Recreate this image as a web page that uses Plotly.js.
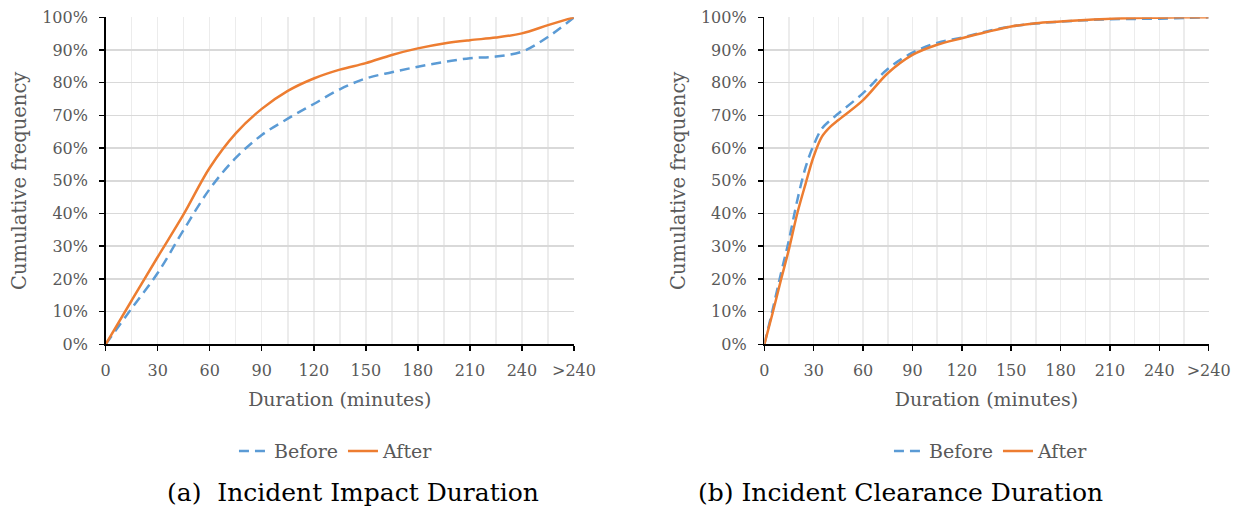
<!DOCTYPE html>
<html>
<head>
<meta charset="utf-8">
<script src="https://cdn.plot.ly/plotly-3.0.1.min.js"></script>
<style>html,body{margin:0;padding:0;background:#fff;}#chart{width:1237px;height:511px;}</style>
</head>
<body>
<div id="chart"></div>
<script>
// x positions in minutes; 270 stands for the ">240" category
const tickVals = [0, 30, 60, 90, 120, 150, 180, 210, 240, 270];
const tickLabels = ['0', '30', '60', '90', '120', '150', '180', '210', '240', '>240'];

// (a) Incident Impact Duration
const impactMinutes = [0, 15, 30, 45, 60, 75, 90, 105, 120, 135, 150, 165, 180, 195, 210, 225, 240, 255, 270];
const impactBefore = [0, 11, 21.8, 35, 47.5, 57, 64, 69, 73.5, 78, 81.3, 83.2, 84.9, 86.3, 87.5, 88, 89.5, 94, 100];
const impactAfter  = [0, 13.4, 26.7, 39.8, 54, 64.5, 72, 77.5, 81.3, 84, 86, 88.5, 90.5, 92, 93, 93.8, 95.1, 97.6, 100];

// (b) Incident Clearance Duration
const clearMinutes = [0, 5, 10, 15, 20, 25, 30, 35, 40, 45, 60, 75, 90, 105, 120, 135, 150, 165, 180, 195, 210, 225, 240, 255, 270];
const clearBefore = [0, 10.5, 21.5, 32, 44, 54, 61, 66, 68.5, 70.6, 76.8, 84.2, 89.2, 92.2, 93.8, 95.7, 97.2, 98.1, 98.7, 99.1, 99.4, 99.5, 99.6, 99.8, 100];
const clearAfter  = [0, 9.5, 19.5, 29.2, 40, 49, 57.5, 63.5, 66.5, 68.6, 74.7, 82.9, 88.5, 91.6, 93.6, 95.5, 97.2, 98.2, 98.7, 99.2, 99.6, 99.8, 99.9, 100, 100];

const seriesNames = ['Before', 'After'];
const captions = ['(a)\u00a0\u00a0Incident Impact Duration', '(b) Incident Clearance Duration'];

const FONT = 'DejaVu Serif';
const GRAY = '#595959';
const BLUE = '#5b9bd5';
const ORANGE = '#ed7d31';

const minorVals = tickVals.slice(1).map((v, i) => (v + tickVals[i]) / 2);

function trace(x, y, name, color, dash, xa, ya, leg) {
  return {
    x: x, y: y, name: name, type: 'scatter', mode: 'lines',
    line: {color: color, width: 2.5, dash: dash, shape: 'spline', smoothing: 1},
    xaxis: xa, yaxis: ya, legend: leg, hoverinfo: 'skip'
  };
}

const data = [
  trace(impactMinutes, impactBefore, seriesNames[0], BLUE, '10px,6px', 'x', 'y', 'legend'),
  trace(impactMinutes, impactAfter, seriesNames[1], ORANGE, 'solid', 'x', 'y', 'legend'),
  trace(clearMinutes, clearBefore, seriesNames[0], BLUE, '10px,6px', 'x2', 'y2', 'legend2'),
  trace(clearMinutes, clearAfter, seriesNames[1], ORANGE, 'solid', 'x2', 'y2', 'legend2')
];

function xAxis(domain, anchor) {
  return {
    domain: domain, anchor: anchor, range: [0, 270],
    tickmode: 'array', tickvals: tickVals, ticktext: tickLabels,
    showline: true, linecolor: '#000', linewidth: 1.5,
    ticks: 'outside', ticklen: 5, tickcolor: '#000', tickwidth: 1.5,
    ticklabelstandoff: 6,
    showgrid: true, gridcolor: '#ececec', gridwidth: 1.5,
    minor: {tickmode: 'array', tickvals: minorVals, showgrid: true, gridcolor: '#ececec', gridwidth: 1.5, ticks: ''},
    zeroline: false,
    tickfont: {family: FONT, size: 16, color: GRAY},
    title: {text: 'Duration (minutes)', font: {family: FONT, size: 19, color: GRAY}, standoff: 13}
  };
}
function yAxis(anchor) {
  return {
    domain: [0.3262, 0.9661], anchor: anchor, range: [0, 100],
    tickmode: 'linear', tick0: 0, dtick: 10, ticksuffix: '%',
    showline: true, linecolor: '#000', linewidth: 1.5,
    ticks: 'outside', ticklen: 5, tickcolor: '#000', tickwidth: 1.5,
    ticklabelstandoff: 8,
    showgrid: true, gridcolor: '#d9d9d9', gridwidth: 1.5,
    zeroline: false,
    tickfont: {family: FONT, size: 16, color: GRAY},
    title: {text: 'Cumulative frequency', font: {family: FONT, size: 19.5, color: GRAY}, standoff: 10}
  };
}

const legendBase = {
  orientation: 'h', yanchor: 'middle', y: 0.117, xanchor: 'center',
  font: {family: FONT, size: 19, color: GRAY}, bgcolor: 'rgba(0,0,0,0)',
  itemwidth: 30, tracegroupgap: 0
};

const layout = {
  width: 1237, height: 511,
  margin: {l: 0, r: 0, t: 0, b: 0},
  paper_bgcolor: '#fff', plot_bgcolor: '#fff',
  font: {family: FONT},
  showlegend: true,
  xaxis: xAxis([0.0854, 0.4640], 'y'),
  yaxis: yAxis('x'),
  xaxis2: xAxis([0.6179, 0.9771], 'y2'),
  yaxis2: yAxis('x2'),
  legend: Object.assign({}, legendBase, {x: 0.272}),
  legend2: Object.assign({}, legendBase, {x: 0.8015}),
  annotations: [
    {text: captions[0], xref: 'paper', yref: 'paper', x: 0.2855, y: 1 - 492 / 511, xanchor: 'center', yanchor: 'middle', showarrow: false, font: {family: FONT, size: 25, color: '#000'}},
    {text: captions[1], xref: 'paper', yref: 'paper', x: 0.7280, y: 1 - 492 / 511, xanchor: 'center', yanchor: 'middle', showarrow: false, font: {family: FONT, size: 25, color: '#000'}}
  ]
};

Plotly.newPlot('chart', data, layout, {staticPlot: true, displayModeBar: false});
</script>
</body>
</html>
